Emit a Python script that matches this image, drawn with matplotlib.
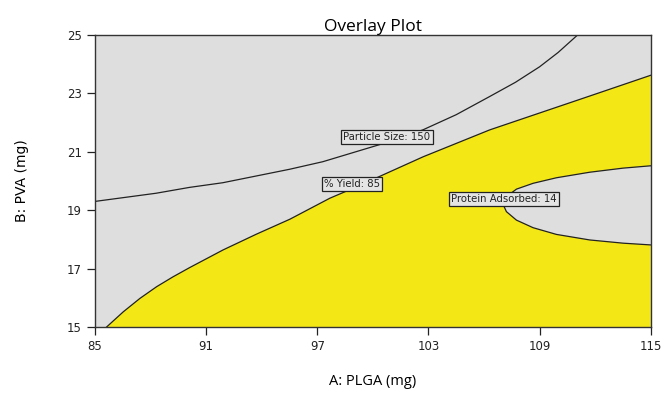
import matplotlib.pyplot as plt

# ---- dados ----
x_ticks = [85, 91, 97, 103, 109, 115]
y_ticks = [15, 17, 19, 21, 23, 25]

# curva Particle Size: 150
ps_x = [85.0, 88.3, 90.1, 91.9, 95.5, 97.3, 100.6, 102.7, 104.5, 106.3, 107.7, 109.0, 110.0, 111.0]
ps_y = [19.30, 19.58, 19.78, 19.94, 20.40, 20.66, 21.29, 21.75, 22.27, 22.89, 23.38, 23.91, 24.40, 24.97]

# curva % Yield: 85
yl_x = [85.63, 86.53, 87.43, 88.33, 89.22, 90.13, 91.92, 93.72, 95.52, 97.68, 99.12, 102.72, 106.31, 111.71, 115.0]
yl_y = [15.0, 15.52, 15.98, 16.38, 16.72, 17.04, 17.64, 18.18, 18.69, 19.41, 19.80, 20.83, 21.75, 22.91, 23.62]

# curva Protein Adsorbed: 14 (de cima para baixo)
pr_x = [115.0, 113.51, 111.71, 109.91, 108.65, 107.75, 107.21, 107.03,
        107.21, 107.75, 108.65, 109.91, 111.71, 113.51, 115.0]
pr_y = [20.52, 20.44, 20.30, 20.11, 19.92, 19.72, 19.46, 19.20,
        18.95, 18.66, 18.40, 18.17, 17.98, 17.87, 17.81]

labels = ['Particle Size: 150', '% Yield: 85', 'Protein Adsorbed: 14']
label_pos = [(100.76, 21.50), (98.88, 19.90), (107.08, 19.38)]

gray = '#dedede'
yellow = '#f4e716'

fig = plt.figure(figsize=(6.64, 3.93), dpi=100)
ax = fig.add_axes([0.143, 0.168, 0.837, 0.743])
ax.set_facecolor(gray)

# região amarela: abaixo do Yield e fora da região Protein
reg_x = yl_x + pr_x + [115.0]
reg_y = yl_y + pr_y + [15.0]
ax.fill(reg_x, reg_y, color=yellow, lw=0)

for cx, cy in [(ps_x, ps_y), (yl_x, yl_y), (pr_x, pr_y)]:
    ax.plot(cx, cy, color='#222222', lw=0.9, solid_joinstyle='round')

for txt, (lx, ly) in zip(labels, label_pos):
    ax.text(lx, ly, txt, fontsize=7.3, family='DejaVu Sans', ha='center', va='center',
            color='#222222',
            bbox=dict(boxstyle='square,pad=0.22', facecolor='#e4e4e4', edgecolor='#222222', lw=0.9))

ax.set_xlim(85, 115)
ax.set_ylim(15, 25)
ax.set_xticks(x_ticks)
ax.set_yticks(y_ticks)
ax.tick_params(direction='out', length=6, width=0.9, labelsize=8.5, colors='#222222')
for s in ax.spines.values():
    s.set_linewidth(1.0)
    s.set_color('#333333')

ax.set_title('Overlay Plot', fontsize=12.5, family='Open Sans', pad=3)
ax.set_xlabel('A: PLGA (mg)', fontsize=10.5, family='Open Sans', labelpad=15)
ax.set_ylabel('B: PVA (mg)', fontsize=10, family='Liberation Sans Narrow', labelpad=27)

plt.savefig('out.png', dpi=100)
